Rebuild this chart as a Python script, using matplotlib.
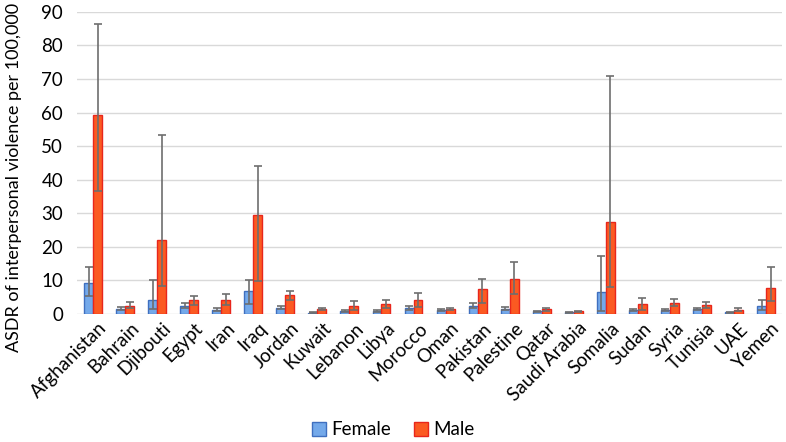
import matplotlib
matplotlib.use("Agg")
import matplotlib.pyplot as plt
import numpy as np

countries = ["Afghanistan", "Bahrain", "Djibouti", "Egypt", "Iran", "Iraq", "Jordan", "Kuwait",
             "Lebanon", "Libya", "Morocco", "Oman", "Pakistan", "Palestine", "Qatar",
             "Saudi Arabia", "Somalia", "Sudan", "Syria", "Tunisia", "UAE", "Yemen"]

female = [9.1, 1.5, 4.0, 2.4, 1.2, 6.8, 1.8, 0.3, 0.9, 0.8, 1.8, 1.0, 2.4, 1.5, 0.7,
          0.4, 6.5, 1.1, 1.0, 1.4, 0.4, 2.3]
female_lo = [5.4, 1.1, 1.4, 1.7, 0.8, 3.0, 1.3, 0.2, 0.6, 0.5, 1.2, 0.7, 1.7, 1.1, 0.5,
             0.3, 0.9, 0.7, 0.7, 1.0, 0.3, 1.0]
female_hi = [13.9, 2.0, 10.0, 3.1, 1.6, 10.1, 2.2, 0.4, 1.2, 1.1, 2.4, 1.3, 3.2, 2.0, 0.9,
             0.6, 17.1, 1.5, 1.3, 1.8, 0.6, 4.2]

male = [59.2, 2.4, 22.0, 4.2, 4.2, 29.5, 5.5, 1.4, 2.4, 3.0, 4.0, 1.4, 7.4, 10.4, 1.3,
        0.7, 27.5, 2.8, 3.3, 2.5, 1.0, 7.7]
male_lo = [36.7, 1.7, 8.3, 2.5, 2.5, 9.8, 4.0, 1.0, 1.2, 1.8, 2.0, 1.0, 3.2, 6.0, 0.9,
           0.5, 8.1, 1.2, 2.2, 1.6, 0.7, 3.8]
male_hi = [86.3, 3.4, 53.3, 5.2, 6.0, 44.0, 6.8, 1.7, 3.8, 4.1, 6.2, 1.7, 10.3, 15.3, 1.6,
           0.9, 70.8, 4.6, 4.3, 3.4, 1.7, 13.9]

yticks = [0, 10, 20, 30, 40, 50, 60, 70, 80, 90]

plt.rcParams['font.family'] = ['Lato', 'DejaVu Sans']

fig = plt.figure(figsize=(7.86, 4.42), dpi=100)
ax = fig.add_axes([0.098, 0.29, 0.897, 0.683])

x = np.arange(len(countries))
w = 0.28
f = np.array(female); m = np.array(male)
ferr = [f - np.array(female_lo), np.array(female_hi) - f]
merr = [m - np.array(male_lo), np.array(male_hi) - m]

ax.bar(x - w/2, f, w, color="#74a9ea", edgecolor="#3f6fbf", linewidth=1.0, label="Female", zorder=3)
ax.bar(x + w/2, m, w, color="#fb5a22", edgecolor="#e8261c", linewidth=1.0, label="Male", zorder=3)
ax.errorbar(x - w/2, f, yerr=ferr, fmt="none", ecolor="#6e6e6e", elinewidth=1.2, capsize=3,
            capthick=1.2, zorder=4)
ax.errorbar(x + w/2, m, yerr=merr, fmt="none", ecolor="#6e6e6e", elinewidth=1.2, capsize=3,
            capthick=1.2, zorder=4)

ax.set_xlim(-0.5, len(countries) - 0.5)
ax.set_ylim(0, 90)
ax.set_yticks(yticks)
ax.grid(axis="y", color="#d9d9d9", linewidth=1.0, zorder=0)
for s in ax.spines.values():
    s.set_visible(False)
ax.tick_params(axis="both", length=0, labelsize=13.5, colors="#000000")
ax.tick_params(axis="y", pad=10)
ax.tick_params(axis="x", pad=4)
ax.set_xticks(x + 0.15)
ax.set_xticklabels(countries, rotation=45, ha="right", rotation_mode="anchor", fontsize=13.5)

fig.text(14 / 786, 1 - 177 / 442, "ASDR of interpersonal violence per 100,000", rotation=90,
         ha="center", va="center", fontsize=13)

fig.legend(loc="lower center", bbox_to_anchor=(0.5, -0.03), ncol=2, frameon=False, fontsize=13.5,
           handlelength=0.75, handleheight=0.75, handletextpad=0.3, columnspacing=1.2)

fig.savefig("out.png", dpi=100)
